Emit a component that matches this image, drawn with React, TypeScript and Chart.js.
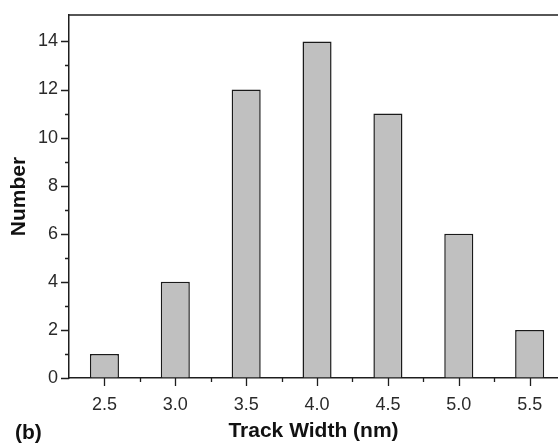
import React, { useEffect, useRef } from 'react';
import { Chart, registerables } from 'chart.js';

Chart.register(...registerables);

const binCenters = [2.5, 3.0, 3.5, 4.0, 4.5, 5.0, 5.5];
const counts = [1, 4, 12, 14, 11, 6, 2];
const xMajorTicks = [2.5, 3.0, 3.5, 4.0, 4.5, 5.0, 5.5];
const xMinorTicks = [2.75, 3.25, 3.75, 4.25, 4.75, 5.25];
const yMajorTicks = [0, 2, 4, 6, 8, 10, 12, 14];
const yMinorTicks = [1, 3, 5, 7, 9, 11, 13];
const xTitle = 'Track Width (nm)';
const yTitle = 'Number';
const panelLabel = '(b)';

const AXIS = '#1e1e1e';
const FONT = '"Liberation Sans", Arial, Helvetica, sans-serif';

const decorPlugin = {
  id: 'decor',
  afterDraw(chart: any) {
    const { ctx, chartArea, scales } = chart;
    const x = scales.x;
    const y = scales.y;
    ctx.save();
    ctx.strokeStyle = AXIS;
    ctx.lineWidth = 1.5;
    // top frame line
    ctx.beginPath();
    ctx.moveTo(chartArea.left, chartArea.top);
    ctx.lineTo(chartArea.right, chartArea.top);
    ctx.stroke();
    // ticks
    ctx.lineWidth = 1.3;
    ctx.beginPath();
    const xt = (v: number, len: number) => {
      const px = Math.round(x.getPixelForValue(v)) + 0.5;
      ctx.moveTo(px, chartArea.bottom);
      ctx.lineTo(px, chartArea.bottom + len);
    };
    const yt = (v: number, len: number) => {
      const py = Math.round(y.getPixelForValue(v)) + 0.5;
      ctx.moveTo(chartArea.left, py);
      ctx.lineTo(chartArea.left - len, py);
    };
    xMajorTicks.forEach((v) => xt(v, 8));
    xMinorTicks.forEach((v) => xt(v, 4));
    yMajorTicks.forEach((v) => yt(v, 8));
    yMinorTicks.forEach((v) => yt(v, 4));
    ctx.stroke();
    // panel label
    ctx.fillStyle = '#111';
    ctx.font = `bold 21px ${FONT}`;
    ctx.textAlign = 'left';
    ctx.textBaseline = 'middle';
    ctx.fillText(panelLabel, 15, 433);
    ctx.restore();
  },
};

export default function App() {
  const canvasRef = useRef<HTMLCanvasElement | null>(null);

  useEffect(() => {
    if (!canvasRef.current) return;
    const chart = new Chart(canvasRef.current, {
      type: 'bar',
      data: {
        datasets: [
          {
            data: binCenters.map((c, i) => ({ x: c, y: counts[i] })),
            backgroundColor: '#c0c0c0',
            borderColor: '#1a1a1a',
            borderWidth: 1.5,
            barPercentage: 0.41,
            categoryPercentage: 1,
          },
        ],
      },
      options: {
        responsive: false,
        animation: false,
        layout: { padding: { top: 15, right: 0, left: 0, bottom: 0 } },
        plugins: { legend: { display: false }, tooltip: { enabled: false } },
        scales: {
          x: {
            type: 'linear',
            min: 2.25,
            max: 5.7,
            offset: false,
            afterBuildTicks: (scale: any) => {
              scale.ticks = xMajorTicks.map((v) => ({ value: v }));
            },
            afterFit: (scale: any) => {
              scale.height = 68;
            },
            ticks: {
              color: '#2a2a2a',
              font: { family: FONT, size: 18 },
              padding: 8,
              maxRotation: 0,
              autoSkip: false,
              callback: (v: any) => Number(v).toFixed(1),
            },
            grid: {
              offset: false,
              drawOnChartArea: false,
              drawTicks: true,
              tickLength: 8,
              color: 'rgba(0,0,0,0)',
            },
            border: { display: true, color: AXIS, width: 1.5 },
            title: {
              display: true,
              text: xTitle,
              color: '#111',
              font: { family: FONT, size: 21, weight: 'bold', lineHeight: 1 },
              padding: { top: 0, bottom: 4 },
            },
          },
          y: {
            type: 'linear',
            min: 0,
            max: 15.1,
            afterBuildTicks: (scale: any) => {
              scale.ticks = yMajorTicks.map((v) => ({ value: v }));
            },
            afterFit: (scale: any) => {
              scale.width = 69;
            },
            ticks: {
              color: '#2a2a2a',
              font: { family: FONT, size: 18 },
              padding: 3,
              autoSkip: false,
              callback: (v: any) => String(v),
            },
            grid: {
              offset: false,
              drawOnChartArea: false,
              drawTicks: true,
              tickLength: 8,
              color: 'rgba(0,0,0,0)',
            },
            border: { display: true, color: AXIS, width: 1.5 },
            title: {
              display: true,
              text: yTitle,
              color: '#111',
              font: { family: FONT, size: 21, weight: 'bold', lineHeight: 1 },
              padding: { top: 9, bottom: 0 },
            },
          },
        },
      },
      plugins: [decorPlugin],
    } as any);
    return () => chart.destroy();
  }, []);

  return (
    <div style={{ position: 'absolute', left: 0, top: 0, width: 558, height: 446, background: '#fff' }}>
      <canvas ref={canvasRef} width={558} height={446} style={{ display: 'block' }} />
    </div>
  );
}
